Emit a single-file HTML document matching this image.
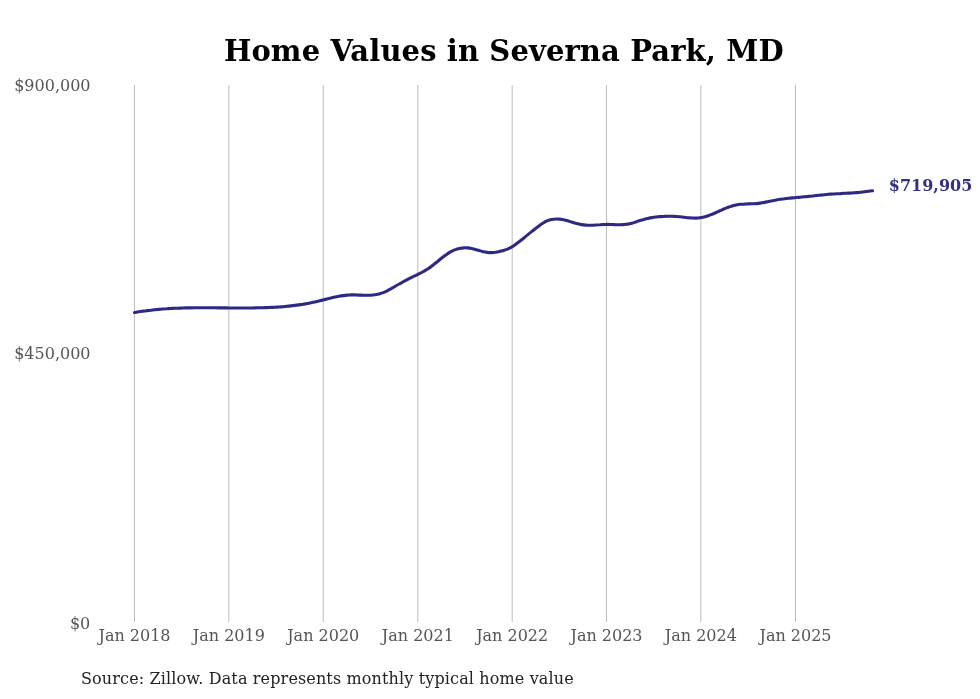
<!DOCTYPE html>
<html><head><meta charset="utf-8"><style>
html,body{margin:0;padding:0;background:#fff;width:980px;height:699px;overflow:hidden}
svg{display:block}
text{font-family:"DejaVu Serif",serif}
</style></head><body>
<svg width="980" height="699" viewBox="0 0 980 699">
<rect width="980" height="699" fill="#fff"/>
<text x="223.9" y="60.6" font-size="29" font-weight="bold" fill="#000" textLength="559.7" lengthAdjust="spacing">Home Values in Severna Park, MD</text>
<g stroke="#bdbdbd" stroke-width="1">
<line x1="134.50" y1="85" x2="134.50" y2="622"/>
<line x1="228.85" y1="85" x2="228.85" y2="622"/>
<line x1="323.21" y1="85" x2="323.21" y2="622"/>
<line x1="417.82" y1="85" x2="417.82" y2="622"/>
<line x1="512.18" y1="85" x2="512.18" y2="622"/>
<line x1="606.53" y1="85" x2="606.53" y2="622"/>
<line x1="700.89" y1="85" x2="700.89" y2="622"/>
<line x1="795.50" y1="85" x2="795.50" y2="622"/>
</g>
<g font-size="16" fill="#555" text-anchor="end">
<text x="90.5" y="90.8">$900,000</text>
<text x="90.5" y="358.8">$450,000</text>
<text x="90.3" y="629">$0</text>
</g>
<g font-size="16" fill="#555">
<text x="134.50" y="640.5" text-anchor="middle">Jan 2018</text>
<text x="228.85" y="640.5" text-anchor="middle">Jan 2019</text>
<text x="323.21" y="640.5" text-anchor="middle">Jan 2020</text>
<text x="417.82" y="640.5" text-anchor="middle">Jan 2021</text>
<text x="512.18" y="640.5" text-anchor="middle">Jan 2022</text>
<text x="606.53" y="640.5" text-anchor="middle">Jan 2023</text>
<text x="700.89" y="640.5" text-anchor="middle">Jan 2024</text>
<text x="795.50" y="640.5" text-anchor="middle">Jan 2025</text>
</g>
<path d="M134.5,312.5 C135.2,312.4 137.2,312.0 138.5,311.8 C139.8,311.6 141.2,311.4 142.5,311.2 C143.9,311.0 145.2,310.8 146.5,310.7 C147.9,310.5 149.2,310.3 150.5,310.2 C151.9,310.0 153.2,309.9 154.6,309.7 C155.9,309.6 157.2,309.5 158.6,309.4 C159.9,309.3 161.2,309.1 162.6,309.0 C163.9,308.9 165.2,308.8 166.6,308.8 C167.9,308.7 169.3,308.6 170.6,308.5 C171.9,308.4 173.3,308.4 174.6,308.3 C175.9,308.3 177.3,308.2 178.6,308.2 C180.0,308.1 181.3,308.1 182.6,308.0 C184.0,308.0 185.3,308.0 186.6,307.9 C188.0,307.9 189.3,307.9 190.7,307.9 C192.0,307.8 193.3,307.8 194.7,307.8 C196.0,307.8 197.3,307.8 198.7,307.8 C200.0,307.8 201.3,307.8 202.7,307.8 C204.0,307.8 205.4,307.8 206.7,307.8 C208.0,307.8 209.4,307.8 210.7,307.8 C212.0,307.8 213.4,307.8 214.7,307.8 C216.1,307.8 217.4,307.8 218.7,307.9 C220.1,307.9 221.4,307.9 222.7,307.9 C224.1,307.9 225.4,307.9 226.8,307.9 C228.1,307.9 229.4,308.0 230.8,308.0 C232.1,308.0 233.4,308.0 234.8,308.0 C236.1,308.0 237.4,308.0 238.8,308.0 C240.1,308.0 241.5,308.0 242.8,308.0 C244.1,308.0 245.5,308.0 246.8,308.0 C248.1,308.0 249.5,308.0 250.8,308.0 C252.2,308.0 253.5,307.9 254.8,307.9 C256.2,307.9 257.5,307.9 258.8,307.8 C260.2,307.8 261.5,307.8 262.8,307.7 C264.2,307.7 265.5,307.6 266.9,307.6 C268.2,307.5 269.5,307.5 270.9,307.4 C272.2,307.4 273.5,307.3 274.9,307.2 C276.2,307.1 277.6,307.1 278.9,307.0 C280.2,306.9 281.6,306.8 282.9,306.7 C284.2,306.6 285.6,306.4 286.9,306.3 C288.2,306.2 289.6,306.0 290.9,305.9 C292.3,305.8 293.6,305.6 294.9,305.4 C296.3,305.3 297.6,305.1 298.9,304.9 C300.3,304.7 301.6,304.5 303.0,304.3 C304.3,304.0 305.6,303.8 307.0,303.5 C308.3,303.3 309.6,303.0 311.0,302.8 C312.3,302.5 313.7,302.2 315.0,301.9 C316.3,301.6 317.7,301.2 319.0,300.9 C320.3,300.6 321.7,300.3 323.0,299.9 C324.3,299.6 325.7,299.3 327.0,298.9 C328.4,298.6 329.7,298.3 331.0,298.0 C332.4,297.7 333.7,297.4 335.0,297.1 C336.4,296.8 337.7,296.5 339.1,296.3 C340.4,296.0 341.7,295.8 343.1,295.6 C344.4,295.4 345.7,295.3 347.1,295.1 C348.4,295.0 349.8,295.0 351.1,294.9 C352.4,294.9 353.8,294.9 355.1,294.9 C356.4,295.0 357.8,295.0 359.1,295.1 C360.4,295.1 361.8,295.2 363.1,295.2 C364.5,295.3 365.8,295.3 367.1,295.3 C368.5,295.3 369.8,295.3 371.1,295.2 C372.5,295.1 373.8,294.9 375.2,294.7 C376.5,294.5 377.8,294.2 379.2,293.9 C380.5,293.5 381.8,293.1 383.2,292.6 C384.5,292.1 385.8,291.5 387.2,290.8 C388.5,290.1 389.9,289.3 391.2,288.6 C392.5,287.8 393.9,287.0 395.2,286.3 C396.5,285.5 397.9,284.7 399.2,284.0 C400.6,283.2 401.9,282.5 403.2,281.7 C404.6,281.0 405.9,280.3 407.2,279.6 C408.6,278.9 409.9,278.3 411.2,277.6 C412.6,276.9 413.9,276.3 415.3,275.7 C416.6,275.0 417.9,274.4 419.3,273.7 C420.6,273.0 421.9,272.3 423.3,271.6 C424.6,270.8 426.0,270.0 427.3,269.2 C428.6,268.3 430.0,267.4 431.3,266.4 C432.6,265.4 434.0,264.4 435.3,263.3 C436.7,262.2 438.0,261.1 439.3,260.0 C440.7,258.9 442.0,257.8 443.3,256.8 C444.7,255.8 446.0,254.8 447.3,253.9 C448.7,253.0 450.0,252.1 451.4,251.4 C452.7,250.7 454.0,250.1 455.4,249.6 C456.7,249.1 458.0,248.7 459.4,248.4 C460.7,248.1 462.1,247.9 463.4,247.9 C464.7,247.8 466.1,247.8 467.4,247.9 C468.7,248.0 470.1,248.1 471.4,248.4 C472.8,248.7 474.1,249.0 475.4,249.4 C476.8,249.8 478.1,250.2 479.4,250.6 C480.8,251.0 482.1,251.4 483.4,251.7 C484.8,252.0 486.1,252.2 487.5,252.4 C488.8,252.5 490.1,252.6 491.5,252.6 C492.8,252.5 494.1,252.4 495.5,252.3 C496.8,252.1 498.2,251.8 499.5,251.5 C500.8,251.2 502.2,250.9 503.5,250.5 C504.8,250.1 506.2,249.6 507.5,249.1 C508.8,248.5 510.2,247.8 511.5,247.1 C512.9,246.3 514.2,245.4 515.5,244.4 C516.9,243.5 518.2,242.5 519.5,241.4 C520.9,240.4 522.2,239.3 523.6,238.2 C524.9,237.1 526.2,236.0 527.6,234.9 C528.9,233.8 530.2,232.7 531.6,231.6 C532.9,230.5 534.3,229.4 535.6,228.4 C536.9,227.4 538.3,226.4 539.6,225.4 C540.9,224.5 542.3,223.6 543.6,222.8 C544.9,222.0 546.3,221.3 547.6,220.7 C549.0,220.1 550.3,219.7 551.6,219.4 C553.0,219.1 554.3,219.0 555.6,219.0 C557.0,218.9 558.3,219.0 559.7,219.1 C561.0,219.3 562.3,219.5 563.7,219.8 C565.0,220.1 566.3,220.5 567.7,220.8 C569.0,221.2 570.3,221.7 571.7,222.1 C573.0,222.5 574.4,222.9 575.7,223.3 C577.0,223.6 578.4,224.0 579.7,224.3 C581.0,224.6 582.4,224.8 583.7,224.9 C585.1,225.1 586.4,225.2 587.7,225.2 C589.1,225.3 590.4,225.2 591.7,225.2 C593.1,225.2 594.4,225.1 595.8,225.0 C597.1,224.9 598.4,224.8 599.8,224.8 C601.1,224.7 602.4,224.6 603.8,224.5 C605.1,224.5 606.4,224.4 607.8,224.4 C609.1,224.4 610.5,224.5 611.8,224.5 C613.1,224.6 614.5,224.6 615.8,224.7 C617.1,224.7 618.5,224.7 619.8,224.7 C621.2,224.7 622.5,224.7 623.8,224.6 C625.2,224.5 626.5,224.4 627.8,224.1 C629.2,223.9 630.5,223.6 631.8,223.2 C633.2,222.9 634.5,222.4 635.9,221.9 C637.2,221.5 638.5,221.0 639.9,220.6 C641.2,220.1 642.5,219.7 643.9,219.4 C645.2,219.0 646.6,218.7 647.9,218.4 C649.2,218.1 650.6,217.8 651.9,217.6 C653.2,217.4 654.6,217.2 655.9,217.0 C657.2,216.9 658.6,216.7 659.9,216.6 C661.3,216.5 662.6,216.4 663.9,216.4 C665.3,216.3 666.6,216.3 667.9,216.3 C669.3,216.3 670.6,216.3 672.0,216.3 C673.3,216.4 674.6,216.4 676.0,216.5 C677.3,216.6 678.6,216.7 680.0,216.8 C681.3,216.9 682.7,217.1 684.0,217.2 C685.3,217.4 686.7,217.5 688.0,217.7 C689.3,217.8 690.7,217.9 692.0,218.0 C693.3,218.1 694.7,218.1 696.0,218.1 C697.4,218.1 698.7,218.0 700.0,217.8 C701.4,217.6 702.7,217.3 704.0,217.0 C705.4,216.7 706.7,216.3 708.1,215.8 C709.4,215.3 710.7,214.8 712.1,214.3 C713.4,213.7 714.7,213.1 716.1,212.5 C717.4,211.9 718.8,211.3 720.1,210.7 C721.4,210.1 722.8,209.5 724.1,208.9 C725.4,208.3 726.8,207.8 728.1,207.3 C729.4,206.8 730.8,206.3 732.1,205.9 C733.5,205.5 734.8,205.2 736.1,204.9 C737.5,204.6 738.8,204.5 740.1,204.3 C741.5,204.2 742.8,204.1 744.2,204.1 C745.5,204.0 746.8,204.0 748.2,203.9 C749.5,203.9 750.8,203.9 752.2,203.8 C753.5,203.8 754.8,203.7 756.2,203.6 C757.5,203.4 758.9,203.3 760.2,203.1 C761.5,202.9 762.9,202.6 764.2,202.4 C765.5,202.1 766.9,201.8 768.2,201.6 C769.6,201.3 770.9,201.0 772.2,200.8 C773.6,200.5 774.9,200.2 776.2,200.0 C777.6,199.7 778.9,199.5 780.2,199.3 C781.6,199.1 782.9,198.9 784.3,198.8 C785.6,198.6 786.9,198.5 788.3,198.3 C789.6,198.2 790.9,198.0 792.3,197.9 C793.6,197.8 795.0,197.7 796.3,197.5 C797.6,197.4 799.0,197.3 800.3,197.2 C801.6,197.0 803.0,196.9 804.3,196.8 C805.7,196.7 807.0,196.5 808.3,196.4 C809.7,196.2 811.0,196.1 812.3,196.0 C813.7,195.8 815.0,195.7 816.3,195.5 C817.7,195.4 819.0,195.2 820.4,195.1 C821.7,194.9 823.0,194.8 824.4,194.7 C825.7,194.6 827.0,194.4 828.4,194.3 C829.7,194.2 831.1,194.1 832.4,194.0 C833.7,194.0 835.1,193.9 836.4,193.8 C837.7,193.7 839.1,193.6 840.4,193.6 C841.8,193.5 843.1,193.4 844.4,193.3 C845.8,193.3 847.1,193.2 848.4,193.1 C849.8,193.0 851.1,192.9 852.4,192.9 C853.8,192.8 855.1,192.7 856.5,192.6 C857.8,192.5 859.1,192.4 860.5,192.2 C861.8,192.1 863.1,192.0 864.5,191.8 C865.8,191.7 867.2,191.5 868.5,191.3 C869.8,191.2 871.8,190.9 872.5,190.8" fill="none" stroke="#2e2983" stroke-width="3.1" stroke-linecap="round" stroke-linejoin="round"/>
<text x="888.8" y="190.8" font-size="16" font-weight="bold" fill="#343084">$719,905</text>
<text x="81" y="684" font-size="16" fill="#222" textLength="492.7" lengthAdjust="spacing">Source: Zillow. Data represents monthly typical home value</text>
</svg>
</body></html>
